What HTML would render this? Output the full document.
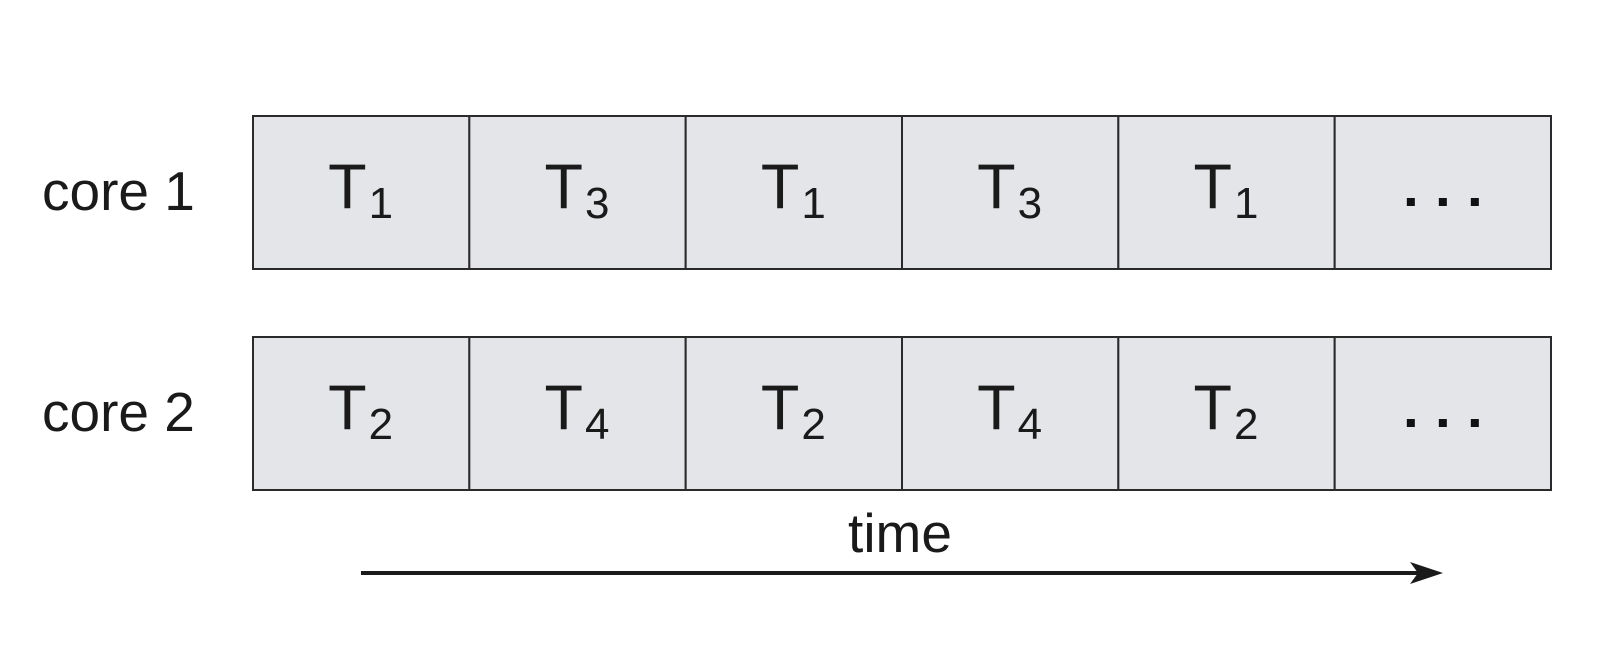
<!DOCTYPE html>
<html><head><meta charset="utf-8"><style>
html,body{margin:0;padding:0;background:#fff;}
svg{display:block;font-family:"Liberation Sans",Arial,sans-serif;}
</style></head><body>
<svg id="chart" width="1620" height="666" viewBox="0 0 1620 666" xmlns="http://www.w3.org/2000/svg"></svg>
<script>
const cores = ["core 1", "core 2"];
const core1Tasks = ["1", "3", "1", "3", "1", "..."];
const core2Tasks = ["2", "4", "2", "4", "2", "..."];
const timeLabel = "time";

const NS = "http://www.w3.org/2000/svg";
const svg = document.getElementById("chart");
const x0 = 253, x1 = 1551;
const rowTops = [116, 337];
const rowH = 153;
const rows = [core1Tasks, core2Tasks];
function colX(i, n) { return x0 + (x1 - x0) * i / n; }
function mk(tag, attrs) { const e = document.createElementNS(NS, tag); for (const k in attrs) e.setAttribute(k, attrs[k]); svg.appendChild(e); return e; }

rows.forEach((tasks, r) => {
  const top = rowTops[r];
  const lbl = mk("text", {x: 42, y: top + 94, "font-size": 55, fill: "#1a1a1a"});
  lbl.textContent = cores[r];
  
  
  tasks.forEach((t, i) => {
    const a = colX(i, tasks.length), b = colX(i + 1, tasks.length);
    const rect = mk("rect", {x: a, y: top, width: b - a, height: rowH, fill: "#e4e5e8", stroke: "#2a2a2a", "stroke-width": 2});
    
    
    const cx = (a + b) / 2;
    if (t === "...") {
      [-32, 0, 32].forEach(d => {
        const dot = mk("rect", {x: cx + d - 4, y: top + 82, width: 8, height: 8, fill: "#111"});
        
        
      });
    } else {
      const tx = mk("text", {x: cx - 33, y: top + 92, "font-size": 63, fill: "#1a1a1a"});
      
      
      const tT = document.createElementNS(NS, "tspan"); tT.textContent = "T"; tx.appendChild(tT);
      const tS = document.createElementNS(NS, "tspan");
      tS.setAttribute("font-size", 44); tS.setAttribute("dx", 2); tS.setAttribute("dy", 10);
      tS.textContent = t; tx.appendChild(tS);
    }
  });
});

const tl = mk("text", {x: 900, y: 552, "font-size": 55, "text-anchor": "middle", fill: "#1a1a1a"});
tl.textContent = timeLabel;


const ln = mk("line", {x1: 361, y1: 573, x2: 1420, y2: 573, stroke: "#1a1a1a", "stroke-width": 4});


const hd = mk("polygon", {points: "1410,562 1443,573 1410,584 1418,573", fill: "#1a1a1a"});


</script>
</body></html>
